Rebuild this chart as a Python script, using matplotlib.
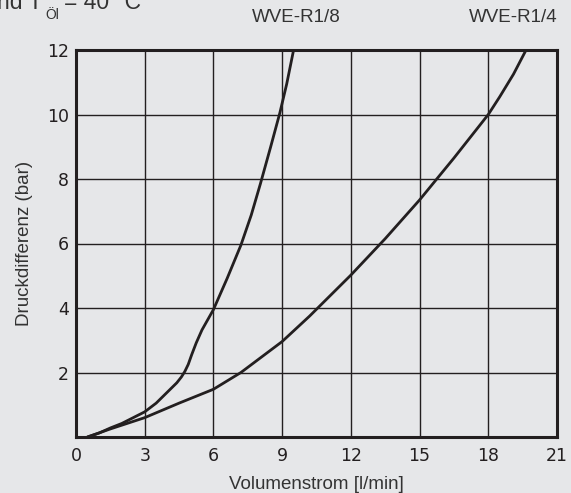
import numpy as np
import matplotlib.pyplot as plt

r18_flow = [0.5, 1.0, 1.5, 2.0, 2.5, 3.0, 3.5, 4.0, 4.4, 4.6, 4.75, 4.9, 5.05, 5.25, 5.5, 6.0, 6.6, 7.2, 7.65, 8.05, 8.5, 8.9, 9.2, 9.5]
r18_dp = [0.0, 0.12, 0.28, 0.42, 0.6, 0.78, 1.05, 1.4, 1.68, 1.86, 2.03, 2.25, 2.55, 2.92, 3.32, 3.95, 4.92, 5.95, 6.88, 7.85, 9.0, 10.05, 10.95, 12.0]

r14_flow = [0.5, 1.5, 3.0, 4.5, 6.0, 7.2, 9.0, 10.2, 12.0, 13.5, 15.0, 16.5, 18.0, 18.5, 19.1, 19.65]
r14_dp = [0.0, 0.25, 0.6, 1.05, 1.48, 2.0, 2.96, 3.75, 5.02, 6.15, 7.35, 8.65, 10.0, 10.55, 11.25, 12.0]

x_ticks = [0, 3, 6, 9, 12, 15, 18, 21]
y_ticks = [2, 4, 6, 8, 10, 12]

bg = '#e6e7e9'
ink = '#231f20'

fig = plt.figure(figsize=(5.71, 4.93), dpi=100, facecolor=bg)
ax = fig.add_axes([76 / 571, 56 / 493, 481 / 571, 387 / 493])
ax.set_facecolor(bg)

ax.plot(r18_flow, r18_dp, color=ink, lw=2.0, solid_capstyle='round', solid_joinstyle='round', zorder=3)
ax.plot(r14_flow, r14_dp, color=ink, lw=2.0, solid_capstyle='round', solid_joinstyle='round', zorder=3)

ax.set_xlim(0, 21)
ax.set_ylim(0, 12)
ax.set_xticks(x_ticks)
ax.set_yticks(y_ticks)
ax.grid(True, color=ink, lw=1.0)
ax.set_axisbelow(True)
for s in ax.spines.values():
    s.set_color(ink)
    s.set_linewidth(2.2)
ax.tick_params(length=0, labelsize=12.5, colors=ink)
ax.tick_params(axis='x', pad=7)
ax.tick_params(axis='y', pad=5)

lab_font = dict(family='Liberation Sans', fontsize=13.5, color='#333333')
ax.set_xlabel('Volumenstrom [l/min]', labelpad=8, **lab_font)
ax.set_ylabel('Druckdifferenz (bar)', labelpad=10, **lab_font)

# curve names and the clipped heading
fig.text(296 / 571, 1 - 18 / 493, 'WVE-R1/8', ha='center', va='center', **lab_font)
fig.text(558 / 571, 1 - 18 / 493, 'WVE-R1/4', ha='right', va='center', **lab_font)
head = dict(family='Liberation Sans', fontsize=16.5, color='#333333', va='baseline')
fig.text(-3 / 571, 1 - 9 / 493, 'nd T', ha='left', **head)
fig.text(45 / 571, 1 - 19 / 493, 'Öl', ha='left', family='Liberation Sans', fontsize=10, color='#333333', va='baseline')
fig.text(64 / 571, 1 - 9 / 493, '= 40 °C', ha='left', **head)

fig.savefig('out.png', dpi=100, facecolor=bg)
